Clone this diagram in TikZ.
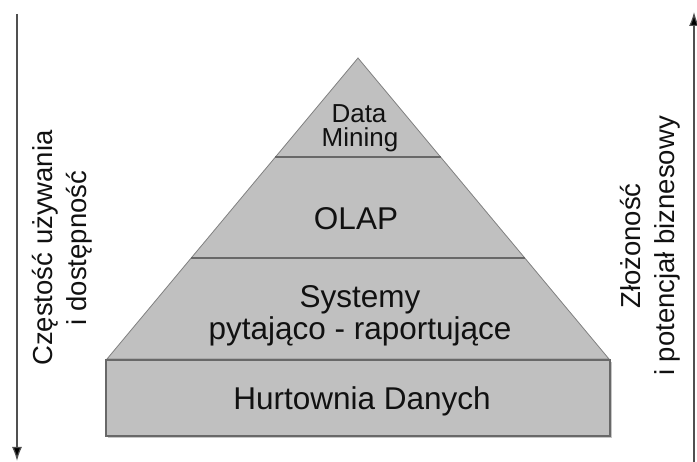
\documentclass[tikz,border=0pt]{standalone}
\usepackage{fontspec}
\setmainfont{Liberation Sans}
\usetikzlibrary{arrows.meta,calc}

\definecolor{layerfill}{HTML}{C0C0C0}
\definecolor{edgegray}{HTML}{808080}
\definecolor{divgray}{HTML}{686868}
\definecolor{axisgray}{HTML}{505050}
\definecolor{inkblack}{HTML}{111111}

\tikzset{
  axis/.style={draw=axisgray, line width=1.2pt,
    -{Latex[length=14pt,width=10pt,fill=black]}},
  layertext/.style={anchor=base, inner sep=0pt, text=inkblack,
    font=\fontsize{31.5}{34}\selectfont},
  toptext/.style={anchor=base, inner sep=0pt, text=inkblack,
    font=\fontsize{26}{28}\selectfont},
  sidetext/.style={rotate=90, align=center, inner sep=0pt, text=inkblack,
    font=\fontsize{27.5}{34}\selectfont},
  divider/.style={draw=divgray, line width=1.8pt},
}

\begin{document}
\begin{tikzpicture}[x=1pt,y=-1pt]
  \useasboundingbox (0,0) rectangle (697,462);

  % pyramid outline points
  \coordinate (apex) at (358,58);
  \coordinate (bl) at (107,359);
  \coordinate (br) at (609,359);

  % triangular part of the pyramid
  \filldraw[fill=layerfill, draw=edgegray, line width=0.8pt]
    (apex) -- (br) -- (bl) -- cycle;

  % dividing lines between the layers
  \draw[divider] ($(apex)!0.329!(bl)$) coordinate (d1l) -- ($(apex)!0.329!(br)$) coordinate (d1r);
  \draw[divider] ($(apex)!0.665!(bl)$) coordinate (d2l) -- ($(apex)!0.665!(br)$) coordinate (d2r);

  % base block with a light shadow
  \fill[gray!45] (108,362) rectangle (612,438);
  \filldraw[fill=layerfill, draw=divgray, line width=1.6pt]
    (106,360) rectangle (610,436);

  % layer labels
  \node[toptext] (dm1) at (359,123) {Data};
  \node[toptext] (dm2) at (360,147) {Mining};
  \node[layertext] (olap) at (356,230) {OLAP};
  \node[layertext] (sys1) at (360,308) {Systemy};
  \node[layertext] (sys2) at (360,340) {pytająco - raportujące};
  \node[layertext] (hd) at (362,410) {Hurtownia Danych};

  % side axes
  \coordinate (lt) at (17,14);
  \coordinate (lb) at (17,461);
  \coordinate (rb) at (694,462);
  \coordinate (rt) at (694,12);
  \draw[axis] (lt) -- (lb);
  \draw[axis] (rb) -- (rt);

  \node[sidetext] (lefttxt) at (62,248) {Częstość używania\\i dostępność};
  \node[sidetext] (righttxt) at (650,246) {Złożoność\\i potencjał biznesowy};
\end{tikzpicture}
\end{document}
